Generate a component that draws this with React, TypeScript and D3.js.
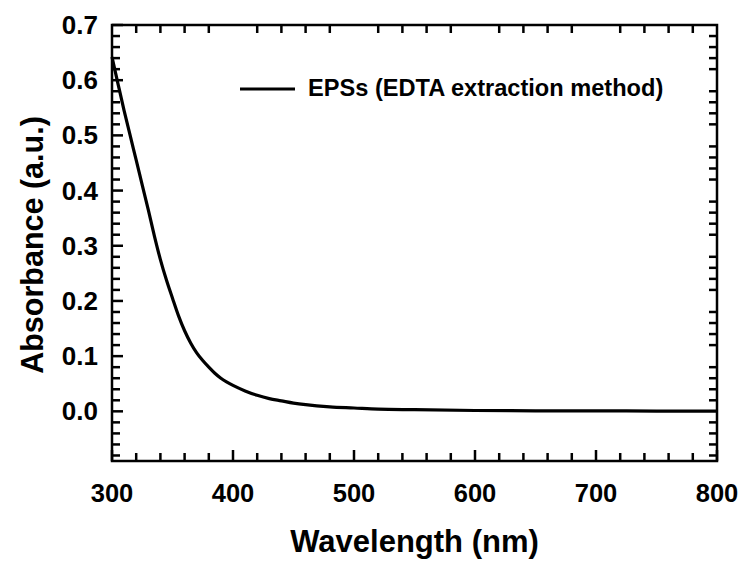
import React, { useEffect, useRef } from 'react';
import * as d3 from 'd3';

// UV-Vis spectrum
const wavelengths = [300, 305, 310, 315, 320, 325, 330, 335, 340, 345, 350, 355, 360, 365, 370, 375, 380, 385, 390, 395, 400, 410, 420, 430, 440, 450, 460, 480, 500, 520, 550, 600, 650, 700, 750, 800];
const absorbance = [0.642, 0.593, 0.545, 0.5, 0.455, 0.41, 0.365, 0.318, 0.275, 0.238, 0.205, 0.173, 0.146, 0.124, 0.106, 0.092, 0.08, 0.069, 0.06, 0.053, 0.047, 0.037, 0.029, 0.023, 0.019, 0.015, 0.012, 0.008, 0.006, 0.004, 0.003, 0.0015, 0.001, 0.0008, 0.0005, 0.0003];

const xTicks = [300, 400, 500, 600, 700, 800];
const yTicks = [0.0, 0.1, 0.2, 0.3, 0.4, 0.5, 0.6, 0.7];
const seriesLabel = 'EPSs (EDTA extraction method)';
const xTitle = 'Wavelength (nm)';
const yTitle = 'Absorbance (a.u.)';

const W = 744;
const H = 561;
const FONT = '"Liberation Sans", Arial, sans-serif';

const App: React.FC = () => {
  const svgRef = useRef<SVGSVGElement>(null);

  useEffect(() => {
    if (!svgRef.current) return;
    const svg = d3.select(svgRef.current);
    svg.selectAll('*').remove();

    const left = 112, right = 717, top = 25, bottom = 461;

    const x = d3.scaleLinear().domain([300, 800]).range([left, right]);
    const y = d3.scaleLinear().domain([-0.09, 0.7]).range([bottom, top]);

    const isMajorX = (v: number) => Math.abs(v % 100) < 1e-6;
    const isMajorY = (v: number) => Math.abs(Math.round(v * 100) % 10) === 0;

    const minorX = d3.range(300, 801, 20);
    const minorY = d3.range(-8, 71, 2).map(d => d / 100);

    const ticks = svg.append('g').attr('stroke', '#000').attr('stroke-width', 2.5);

    // bottom ticks (inward)
    minorX.forEach(v => {
      const len = isMajorX(v) ? 11 : 8;
      ticks.append('line').attr('x1', x(v)).attr('x2', x(v)).attr('y1', bottom).attr('y2', bottom - len);
    });
    // top ticks: minor only
    minorX.filter(v => !isMajorX(v)).forEach(v => {
      ticks.append('line').attr('x1', x(v)).attr('x2', x(v)).attr('y1', top).attr('y2', top + 8);
    });
    // left ticks
    minorY.forEach(v => {
      const len = isMajorY(v) ? 11 : 8;
      ticks.append('line').attr('x1', left).attr('x2', left + len).attr('y1', y(v)).attr('y2', y(v));
    });
    // right ticks: minor only
    minorY.filter(v => !isMajorY(v)).forEach(v => {
      ticks.append('line').attr('x1', right).attr('x2', right - 8).attr('y1', y(v)).attr('y2', y(v));
    });

    // frame
    svg.append('rect')
      .attr('x', left).attr('y', top)
      .attr('width', right - left).attr('height', bottom - top)
      .attr('fill', 'none').attr('stroke', '#000').attr('stroke-width', 2.5);

    // curve
    const pts = wavelengths.map((w, i) => [w, absorbance[i]] as [number, number]);
    const line = d3.line<[number, number]>()
      .x(d => x(d[0]))
      .y(d => y(d[1]))
      .curve(d3.curveMonotoneX);
    svg.append('path')
      .datum(pts)
      .attr('d', line)
      .attr('fill', 'none')
      .attr('stroke', '#000')
      .attr('stroke-width', 3.2);

    // tick labels
    svg.append('g').selectAll('text')
      .data(xTicks).enter().append('text')
      .attr('x', d => x(d)).attr('y', 502)
      .attr('text-anchor', 'middle')
      .attr('font-family', FONT).attr('font-weight', 'bold').attr('font-size', 25.5)
      .text(d => String(d));

    svg.append('g').selectAll('text')
      .data(yTicks).enter().append('text')
      .attr('x', left - 14).attr('y', d => y(d) + 9)
      .attr('text-anchor', 'end')
      .attr('font-family', FONT).attr('font-weight', 'bold').attr('font-size', 26)
      .text(d => d.toFixed(1));

    // axis titles
    svg.append('text')
      .attr('x', (left + right) / 2).attr('y', 552)
      .attr('text-anchor', 'middle')
      .attr('font-family', FONT).attr('font-weight', 'bold').attr('font-size', 31)
      .text(xTitle);

    svg.append('text')
      .attr('transform', `translate(43,${(top + bottom) / 2 + 2}) rotate(-90)`)
      .attr('text-anchor', 'middle')
      .attr('font-family', FONT).attr('font-weight', 'bold').attr('font-size', 30.5)
      .text(yTitle);

    // legend
    svg.append('line')
      .attr('x1', 240).attr('x2', 295).attr('y1', 89).attr('y2', 89)
      .attr('stroke', '#000').attr('stroke-width', 3.2);
    svg.append('text')
      .attr('x', 308).attr('y', 96)
      .attr('font-family', FONT).attr('font-weight', 'bold').attr('font-size', 23.6)
      .text(seriesLabel);
  }, []);

  return (
    <svg ref={svgRef} width={W} height={H}
      style={{ position: 'absolute', left: 0, top: 0, display: 'block', background: '#fff' }} />
  );
};

export default App;
